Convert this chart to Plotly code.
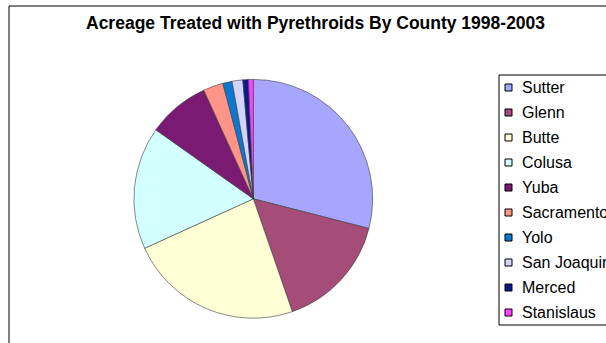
import plotly.graph_objects as go

# Share of pyrethroid-treated acreage by county, 1998-2003 (percent)
counties = ["Sutter", "Glenn", "Butte", "Colusa", "Yuba", "Sacramento",
            "Yolo", "San Joaquin", "Merced", "Stanislaus"]
acreage_pct = [29.0, 15.7, 23.5, 16.6, 8.4, 2.7, 1.25, 1.45, 0.75, 0.65]
slice_colors = ["#A6A6FF", "#A64C78", "#FFFFD6", "#D2FFFF", "#7A1A72",
                "#FF9488", "#0A78D2", "#D4D4FA", "#0A1A8C", "#FF40FF"]

W, H = 606, 343
FONT = "Arial, 'Liberation Sans', sans-serif"

# pie placement in pixels
cx, cy, r = 253.3, 198.8, 119.4

fig = go.Figure(
    go.Pie(
        labels=counties,
        values=acreage_pct,
        sort=False,
        direction="clockwise",
        rotation=0,
        textinfo="none",
        hoverinfo="label+percent",
        showlegend=False,
        marker=dict(colors=slice_colors, line=dict(color="#3c3c3c", width=0.6)),
        domain=dict(x=[(cx - r) / W, (cx + r) / W],
                    y=[1 - (cy + r) / H, 1 - (cy - r) / H]),
    )
)

shapes = []
annotations = []

# chart-area frame
shapes.append(dict(type="rect", xref="paper", yref="paper",
                   x0=9 / W, x1=1.1, y0=-0.1, y1=1 - 6 / H,
                   line=dict(color="#000000", width=1), fillcolor="rgba(0,0,0,0)"))

# legend box
leg_left, leg_top, leg_bottom = 499, 75, 325
shapes.append(dict(type="rect", xref="paper", yref="paper",
                   x0=leg_left / W, x1=1.1, y0=1 - leg_bottom / H, y1=1 - leg_top / H,
                   line=dict(color="#000000", width=1), fillcolor="#FFFFFF"))

step = (leg_bottom - leg_top) / len(counties)
for i, (name, col) in enumerate(zip(counties, slice_colors)):
    yc = leg_top + step * (i + 0.5)
    shapes.append(dict(type="rect", xref="paper", yref="paper",
                       x0=505 / W, x1=512 / W,
                       y0=1 - (yc + 3.5) / H, y1=1 - (yc - 3.5) / H,
                       line=dict(color="#000000", width=1), fillcolor=col))
    annotations.append(dict(xref="paper", yref="paper", x=520 / W, y=1 - yc / H,
                            xanchor="left", yanchor="middle", showarrow=False,
                            text=name, font=dict(family=FONT, size=16, color="#000000")))

# title, centred over the chart area
annotations.append(dict(xref="paper", yref="paper", x=315 / W, y=1 - 23 / H,
                        xanchor="center", yanchor="middle", showarrow=False,
                        text="<b>Acreage Treated with Pyrethroids By County 1998-2003</b>",
                        font=dict(family=FONT, size=17.5, color="#000000")))

fig.update_layout(
    width=W, height=H,
    margin=dict(l=0, r=0, t=0, b=0),
    paper_bgcolor="#FFFFFF",
    plot_bgcolor="#FFFFFF",
    shapes=shapes,
    annotations=annotations,
)

fig.write_html("out.html")
